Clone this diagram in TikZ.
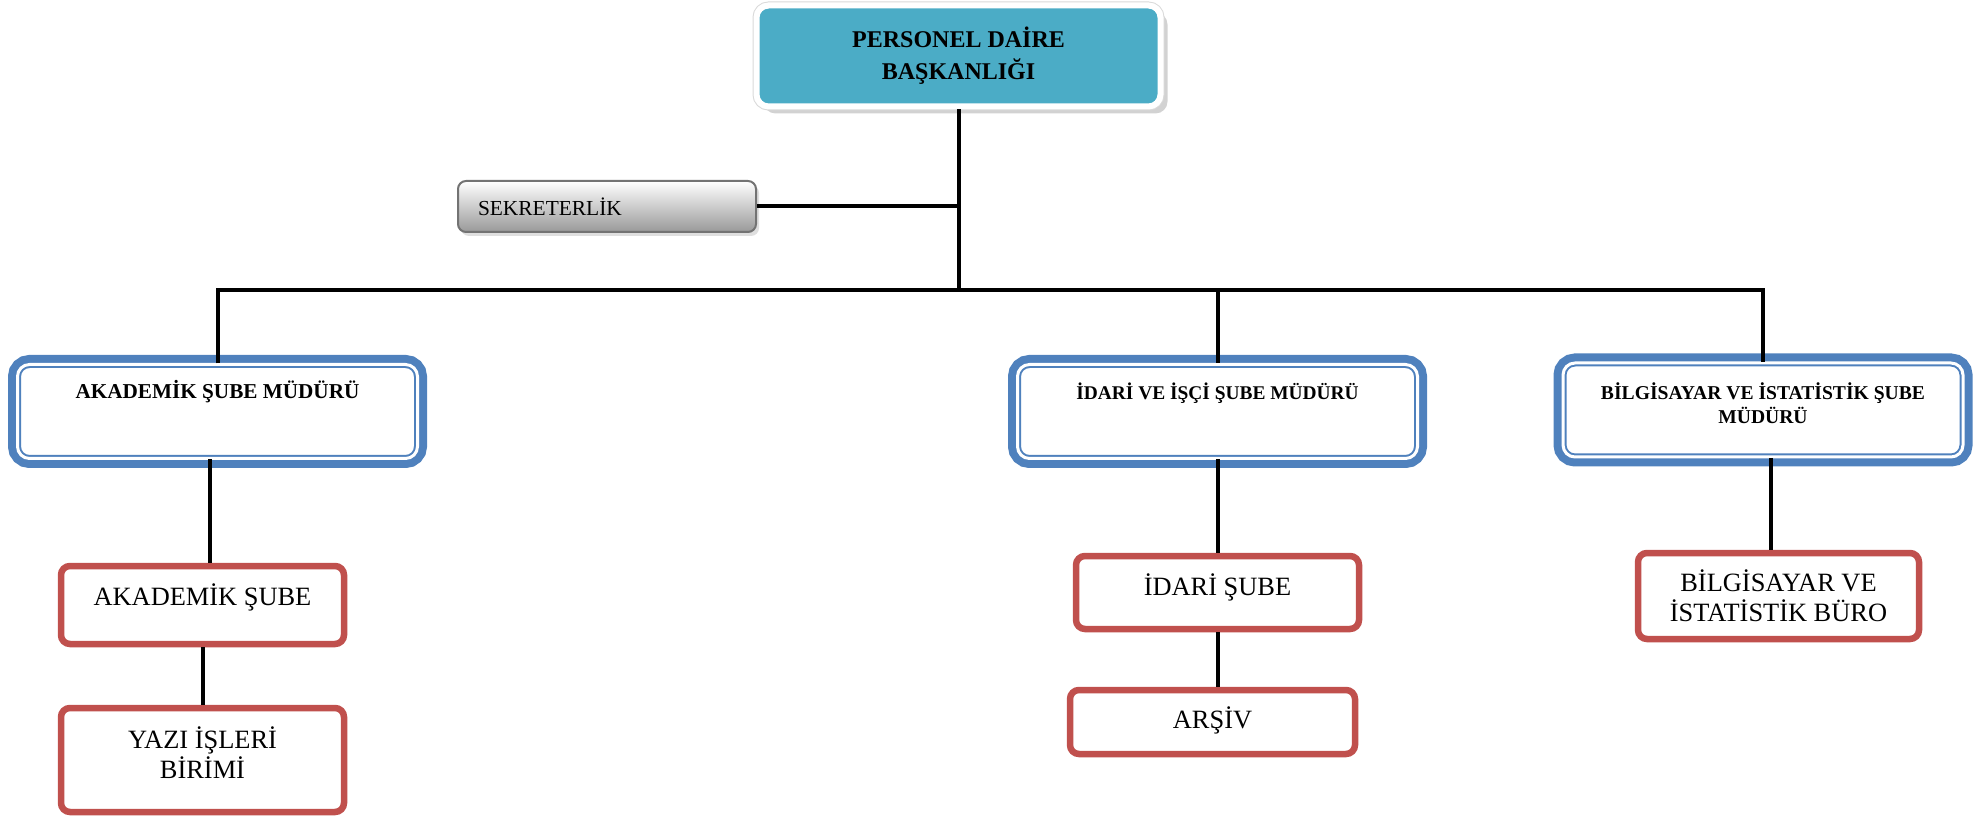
\documentclass[tikz,border=0pt]{standalone}
\usepackage{fontspec}
\setmainfont{Liberation Serif}
\usetikzlibrary{shadows,calc}
\definecolor{headteal}{RGB}{75,172,198}
\definecolor{mudurblue}{RGB}{79,129,189}
\definecolor{birimred}{RGB}{192,80,77}
\begin{document}
\begin{tikzpicture}[x=0.5pt,y=-0.5pt,
 head/.style={drop shadow={shadow xshift=3.5pt,shadow yshift=-3.5pt,fill=black!35},
  preaction={draw=black!15,line width=4pt},rounded corners=6pt,fill=headteal,draw=white,
  line width=3pt,minimum width=202pt,minimum height=50.5pt,align=center,
  font=\bfseries\fontsize{12}{16}\selectfont},
 sekr/.style={drop shadow={shadow xshift=1.5pt,shadow yshift=-2pt,fill=black!25},
  rounded corners=4pt,top color=white,bottom color=black!40,draw=black!55,line width=1pt,
  minimum height=25.5pt,text width=129pt,inner xsep=10pt,align=left,
  font=\fontsize{10.7}{12}\selectfont},
 mudur/.style={preaction={draw=mudurblue,line width=9.5pt},fill=white,
  draw=mudurblue,line width=1pt,double=white,double distance=1.5pt,rounded corners=6pt,
  minimum width=200pt,minimum height=47pt,align=center,text height=8pt,
  font=\bfseries\fontsize{9.8}{12}\selectfont},
 birim/.style={draw=birimred,line width=3.25pt,rounded corners=4.5pt,fill=white,
  minimum width=141.5pt,align=center,text height=10pt,
  font=\fontsize{13.2}{15}\selectfont},
 conn/.style={line width=2pt}]
\useasboundingbox (0,0) rectangle (1979,817);

\node[head] (pdb) at (958.5,56) {PERSONEL DAİRE\\BAŞKANLIĞI};
\node[sekr] (sek) at (607,206.5) {SEKRETERLİK};

\node[mudur,text depth=20.5pt,font=\bfseries\fontsize{10.6}{12}\selectfont] (akm) at (217.5,411.5) {AKADEMİK ŞUBE MÜDÜRÜ};
\node[mudur,text depth=20.1pt,font=\bfseries\fontsize{9.7}{12}\selectfont] (idm) at (1217.5,411.5) {İDARİ VE İŞÇİ ŞUBE MÜDÜRÜ};
\node[mudur,text height=15.5pt,text depth=2pt] (bim) at (1763,410) {BİLGİSAYAR VE İSTATİSTİK ŞUBE\\MÜDÜRÜ};

\node[birim,minimum height=39pt,text depth=9.3pt] (aks) at (202.5,605) {AKADEMİK ŞUBE};
\node[birim,minimum height=52pt,text height=20.7pt,text depth=2pt] (yaz) at (202.5,760) {YAZI İŞLERİ\\BİRİMİ};
\node[birim,minimum height=36.5pt,text depth=6.8pt] (ids) at (1217.5,592.5) {İDARİ ŞUBE};
\node[birim,minimum height=32pt,minimum width=142.5pt,text depth=3.3pt] (ars) at (1212.5,722) {ARŞİV};
\node[birim,minimum height=43pt,minimum width=140.5pt,text height=27.7pt,text depth=2pt] (bib) at (1778.5,596) {BİLGİSAYAR VE\\İSTATİSTİK BÜRO};

\coordinate (bus) at (958.5,290);
\coordinate (akx) at ($(akm.south)!.5!(aks.north)$);
\coordinate (bix) at ($(bim.south)!.5!(bib.north)$);
\draw[conn] (pdb.south) -- (bus);
\draw[conn] (sek.east) -- (sek.east -| pdb.south);
\draw[conn] (akm.north) |- (bus) -| (bim.north);
\path[conn] (idm.north |- bus) edge (idm.north)
 (akx |- akm.south) edge (akx |- aks.north)
 (aks.south) edge (yaz.north)
 (idm.south) edge (ids.north)
 (ids.south) edge (ids.south |- ars.north)
 (bix |- bim.south) edge (bix |- bib.north);
\end{tikzpicture}
\end{document}
